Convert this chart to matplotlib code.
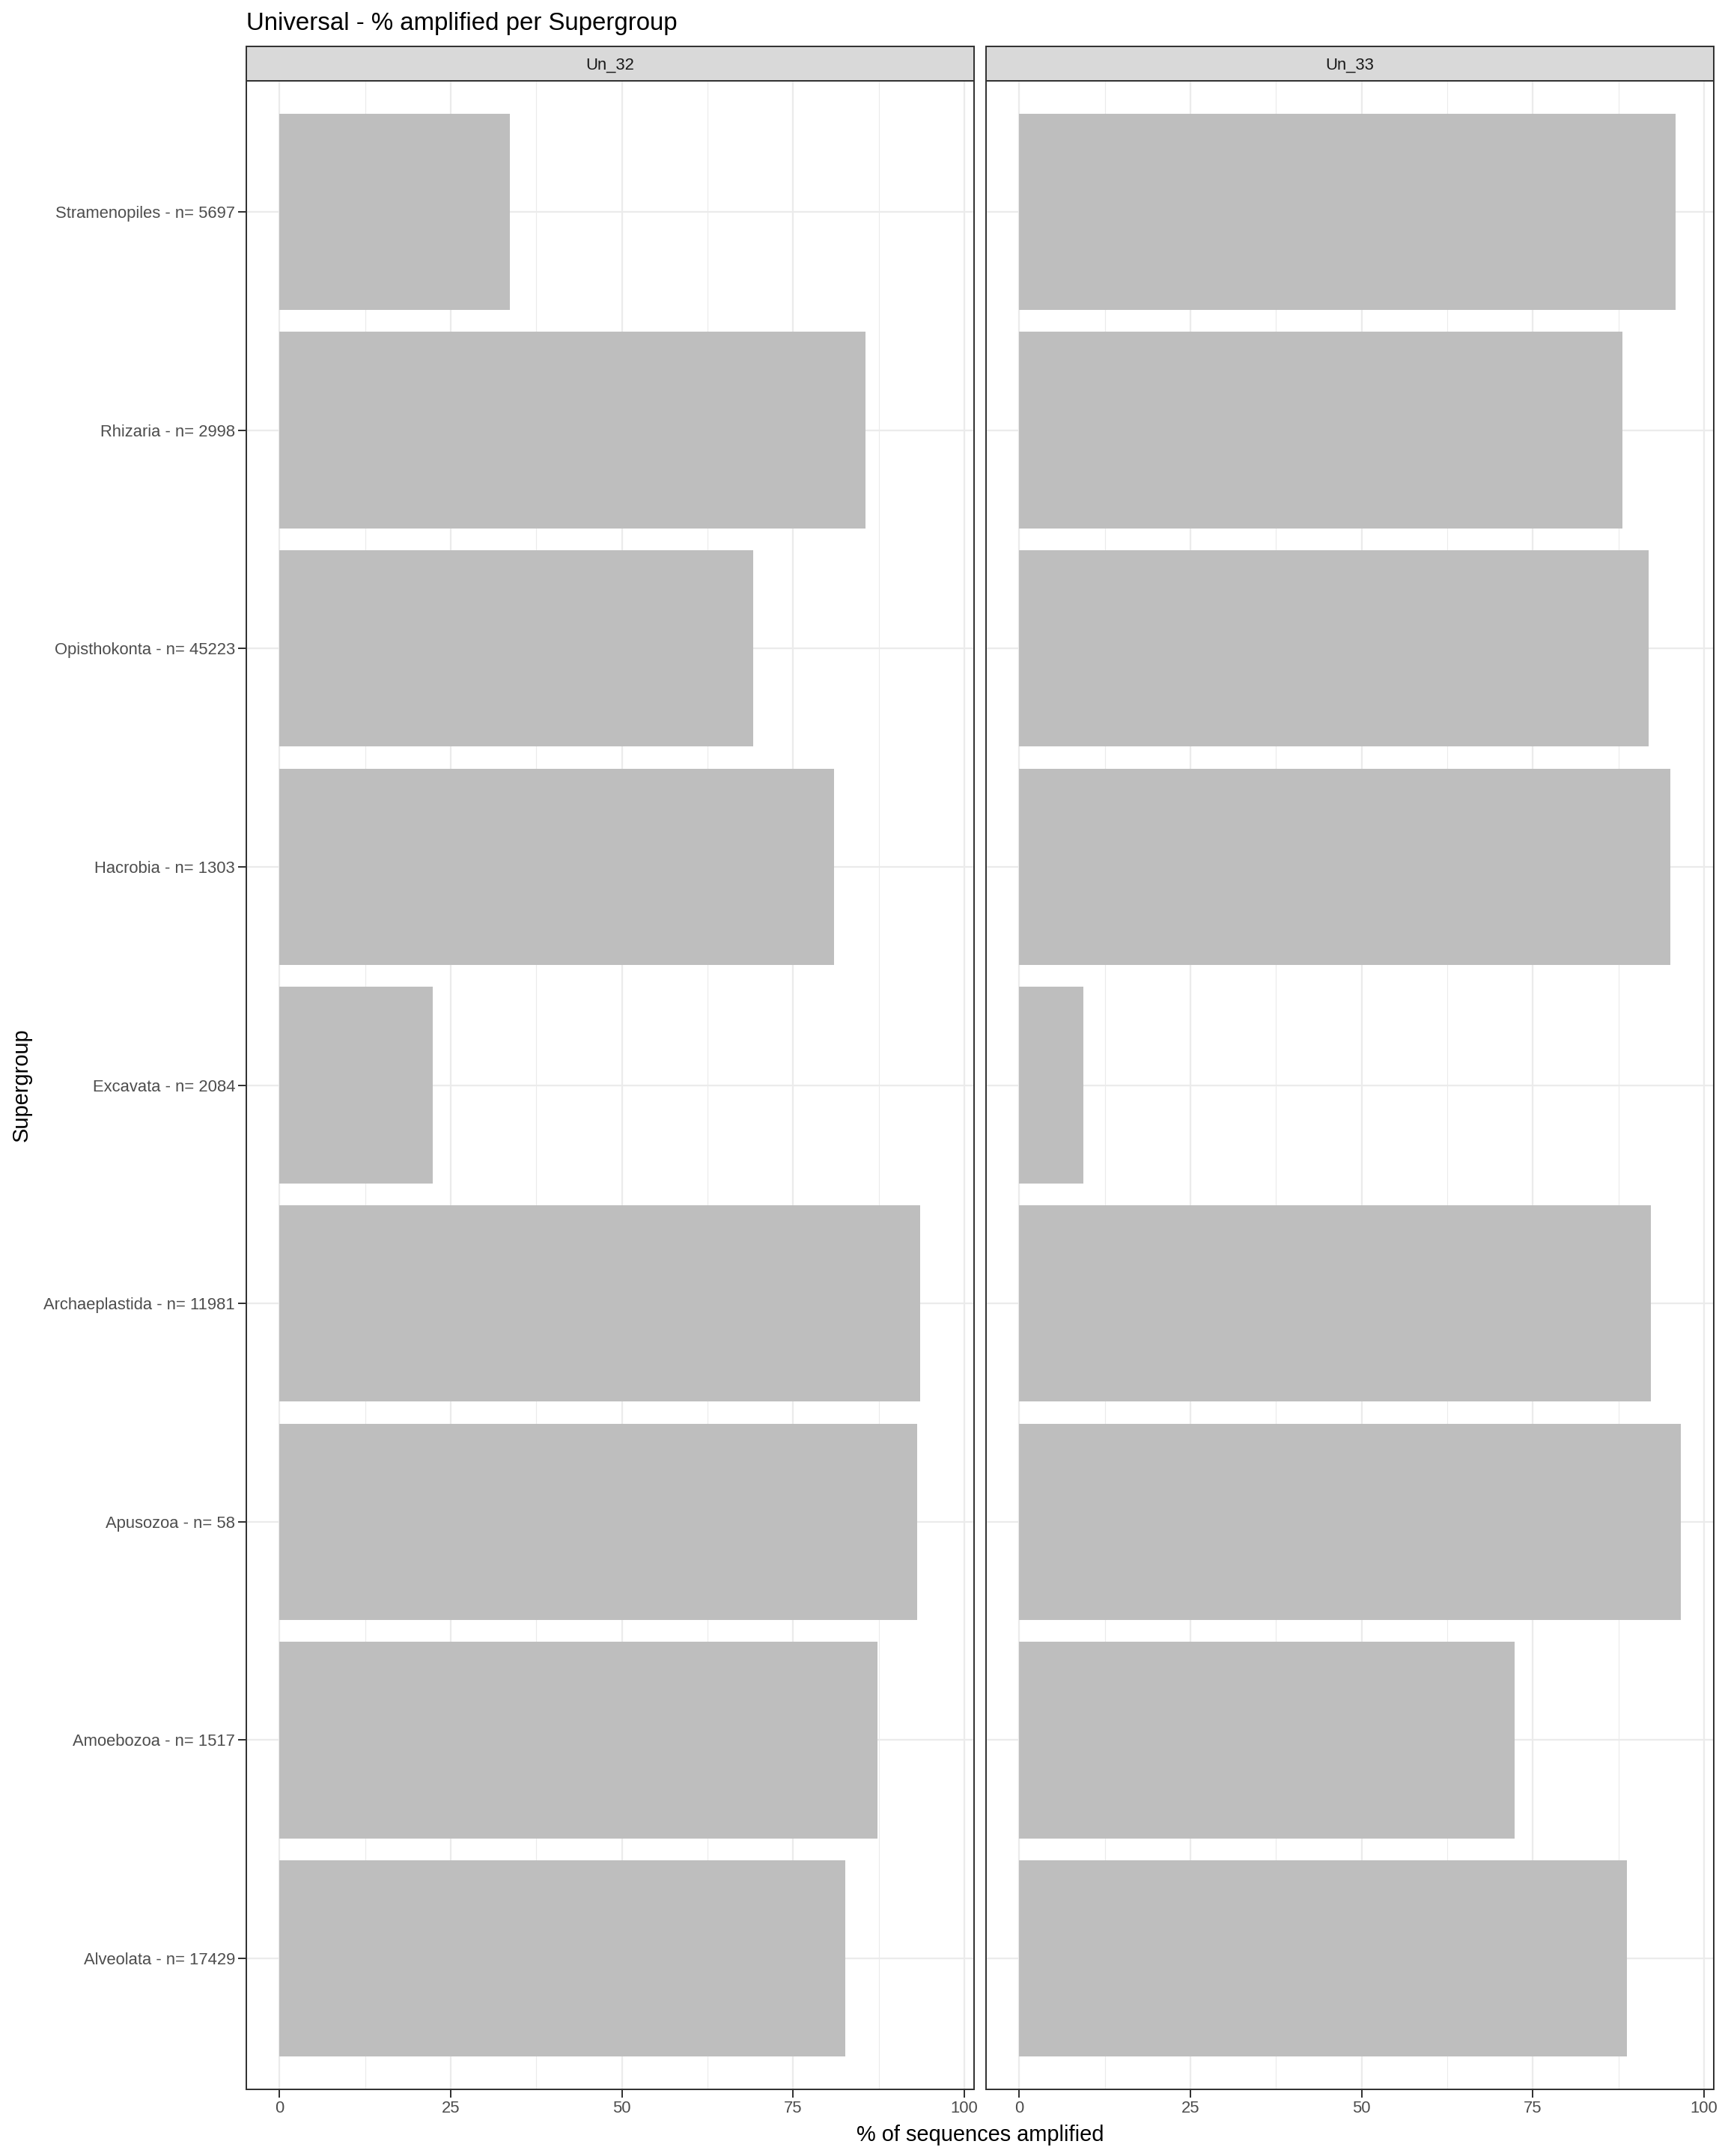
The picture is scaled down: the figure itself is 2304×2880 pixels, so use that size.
import numpy as np
import matplotlib
matplotlib.use("Agg")
import matplotlib.pyplot as plt

'''Data'''
groups = ['Alveolata', 'Amoebozoa', 'Apusozoa', 'Archaeplastida', 'Excavata',
          'Hacrobia', 'Opisthokonta', 'Rhizaria', 'Stramenopiles']
counts = [17429, 1517, 58, 11981, 2084, 1303, 45223, 2998, 5697]
un32 = [82.6, 87.3, 93.1, 93.6, 22.4, 81.0, 69.2, 85.6, 33.6]
un33 = [88.8, 72.3, 96.6, 92.2, 9.4, 95.1, 91.9, 88.1, 95.9]
panels = ['Un_32', 'Un_33']
xticks = [0, 25, 50, 75, 100]

labels = [f'{g} - n= {n}' for g, n in zip(groups, counts)]

plt.rcParams['font.family'] = ['Liberation Sans', 'DejaVu Sans']

W, H = 2304, 2880
fig = plt.figure(figsize=(W / 72, H / 72), dpi=72)

dmax = max(max(un32), max(un33))
xlim = (-0.05 * dmax, 1.05 * dmax)
ypos = np.arange(1, len(groups) + 1)

lefts = [329, 1317]
pw = 972
ptop, pbot = 108, 2791
strip_top = 62

for i, (name, vals) in enumerate(zip(panels, [un32, un33])):
    ax = fig.add_axes([lefts[i] / W, 1 - pbot / H, pw / W, (pbot - ptop) / H])
    ax.set_xlim(*xlim)
    ax.set_ylim(0.4, len(groups) + 0.6)
    ax.set_xticks(xticks)
    ax.set_xticks([12.5, 37.5, 62.5, 87.5], minor=True)
    ax.set_yticks(ypos)
    ax.grid(True, which='major', color='#EBEBEB', linewidth=2.2)
    ax.grid(True, which='minor', axis='x', color='#EBEBEB', linewidth=1.1)
    ax.set_axisbelow(True)
    ax.barh(ypos, vals, height=0.9, color='#BEBEBE', zorder=2)
    for s in ax.spines.values():
        s.set_color('#333333')
        s.set_linewidth(2)
    ax.tick_params(axis='both', which='major', length=11, width=2, color='#333333',
                   labelsize=22, labelcolor='#4D4D4D', pad=4)
    ax.tick_params(axis='both', which='minor', length=0)
    if i == 0:
        ax.set_yticklabels(labels)
    else:
        ax.set_yticklabels([])
        ax.tick_params(axis='y', length=0)
    # facet strip
    sax = fig.add_axes([lefts[i] / W, 1 - ptop / H, pw / W, (ptop - strip_top) / H])
    sax.set_facecolor('#D9D9D9')
    sax.set_xticks([])
    sax.set_yticks([])
    for s in sax.spines.values():
        s.set_color('#333333')
        s.set_linewidth(2)
    sax.text(0.5, 0.45, name, ha='center', va='center', fontsize=22,
             color='#1A1A1A', transform=sax.transAxes)

fig.text(329 / W, 1 - 40 / H, 'Universal - % amplified per Supergroup',
         fontsize=33, ha='left', va='baseline', color='black')
fig.text(1309 / W, 1 - 2852 / H, '% of sequences amplified',
         fontsize=29, ha='center', va='center', color='black')
fig.text(29 / W, 1 - 1449 / H, 'Supergroup', fontsize=29, rotation=90,
         ha='center', va='center', color='black')

fig.savefig('out.png', dpi=72, facecolor='white')
